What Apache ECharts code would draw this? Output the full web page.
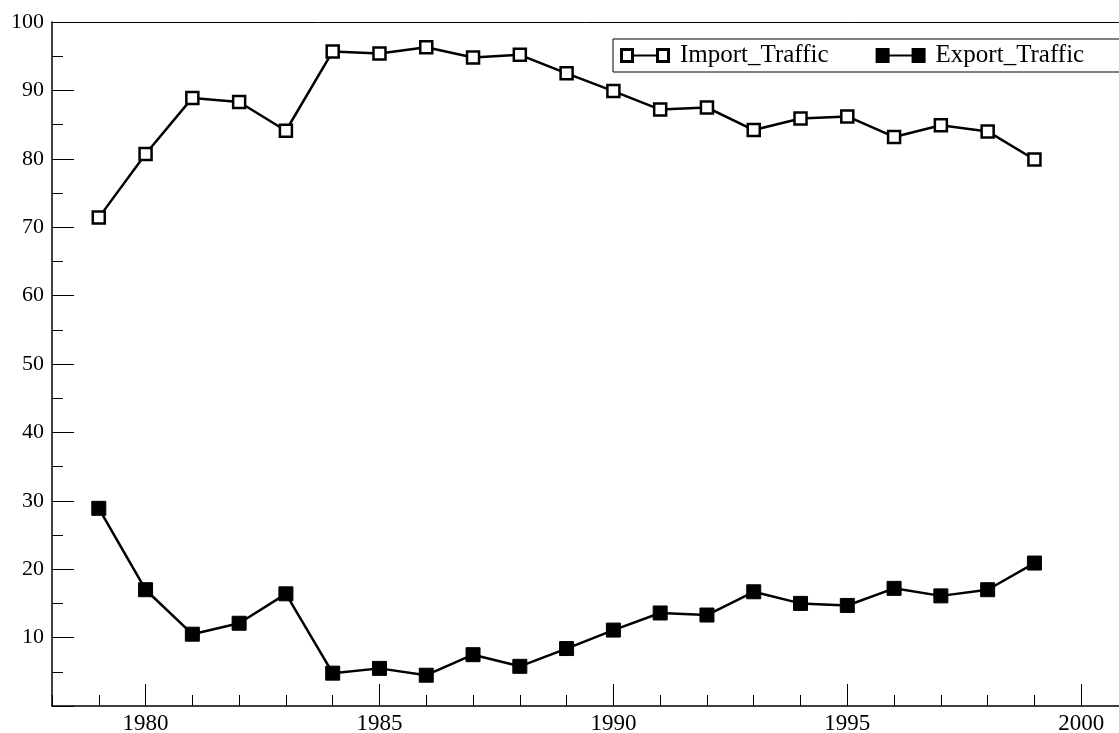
<!DOCTYPE html>
<html>
<head>
<meta charset="utf-8">
<script src="https://cdn.jsdelivr.net/npm/echarts@6/dist/echarts.min.js"></script>
<style>
html,body{margin:0;padding:0;background:#fff;overflow:hidden;}
#chart{width:1119px;height:733px;}
</style>
</head>
<body>
<div id="chart"></div>
<script>
var years = [1979,1980,1981,1982,1983,1984,1985,1986,1987,1988,1989,1990,1991,1992,1993,1994,1995,1996,1997,1998,1999];
var importTraffic = [71.4,80.7,88.9,88.3,84.1,95.7,95.4,96.3,94.8,95.2,92.5,89.9,87.2,87.5,84.2,85.9,86.2,83.2,84.9,84.0,79.9];
var exportTraffic = [28.9,17.0,10.5,12.1,16.4,4.8,5.5,4.5,7.5,5.8,8.4,11.1,13.6,13.3,16.7,15.0,14.7,17.2,16.1,17.0,20.9];
var majorYears = [1980,1985,1990,1995,2000];
var seriesNames = ['Import_Traffic','Export_Traffic'];

var FONT = '"Liberation Serif", "Times New Roman", serif';
function pairs(vals){ return years.map(function(y,i){ return [y, vals[i]]; }); }

var hollowIcon = 'path://M0,0H14V15H0Z M3,3V12H11V3Z M14,6.5H36V8.5H14Z M36,0H50V15H36Z M39,3V12H47V3Z';
var solidIcon = 'path://M0,0H14V15H0Z M14,6.5H36V8.5H14Z M36,0H50V15H36Z';

var chart = echarts.init(document.getElementById('chart'), null, {renderer:'canvas'});
chart.setOption({
  backgroundColor: '#fff',
  animation: false,
  grid: {left: 52, width: 1076, top: 22, bottom: 27, containLabel: false, outerBoundsMode: 'none'},
  legend: {
    left: 613, top: 39, width: 560,
    orient: 'horizontal',
    padding: [4, 50, 4, 7],
    itemGap: 47,
    itemWidth: 50, itemHeight: 15,
    borderColor: '#000', borderWidth: 1,
    backgroundColor: '#fff',
    itemStyle: {color: '#000', borderWidth: 0},
    textStyle: {fontFamily: FONT, fontSize: 25, color: '#000', padding: [0,0,0,5]},
    data: [
      {name: seriesNames[0], icon: hollowIcon},
      {name: seriesNames[1], icon: solidIcon}
    ]
  },
  xAxis: [
    {
      type: 'value', min: 1978, max: 2001, interval: 1,
      position: 'bottom',
      axisLine: {show: true, onZero: false, lineStyle: {color: '#000', width: 1.5}},
      axisTick: {show: true, inside: true, length: 11, lineStyle: {color: '#000', width: 1}},
      axisLabel: {show: false},
      splitLine: {show: false}
    },
    {
      type: 'value', min: 1978, max: 2001, interval: 1,
      position: 'bottom',
      axisLine: {show: false, onZero: false},
      axisTick: {show: true, inside: true, length: 22, customValues: majorYears, lineStyle: {color: '#000', width: 1}},
      axisLabel: {
        show: true, customValues: majorYears, margin: 6, color: '#000', fontFamily: FONT, fontSize: 23,
        formatter: function(v){ return String(v); }
      },
      splitLine: {show: false}
    },
    {
      type: 'value', min: 1978, max: 2001, interval: 1,
      position: 'top',
      axisLine: {show: true, onZero: false, lineStyle: {color: '#000', width: 1}},
      axisTick: {show: false},
      axisLabel: {show: false},
      splitLine: {show: false}
    }
  ],
  yAxis: {
    type: 'value', min: 0, max: 100, interval: 10,
    axisLine: {show: true, onZero: false, lineStyle: {color: '#000', width: 1.5}},
    axisTick: {show: true, inside: true, length: 22, lineStyle: {color: '#000', width: 1}},
    minorTick: {show: true, splitNumber: 2, length: 11, lineStyle: {color: '#000', width: 1}},
    axisLabel: {
      margin: 8, color: '#000', fontFamily: FONT, fontSize: 22,
      formatter: function(v){ return v === 0 ? '' : String(v); }
    },
    splitLine: {show: false}
  },
  series: [
    {
      name: seriesNames[0], type: 'line', xAxisIndex: 0,
      data: pairs(importTraffic),
      symbol: 'rect', symbolSize: 12,
      lineStyle: {color: '#000', width: 2.5},
      itemStyle: {color: '#fff', borderColor: '#000', borderWidth: 2.5},
      z: 3
    },
    {
      name: seriesNames[1], type: 'line', xAxisIndex: 0,
      data: pairs(exportTraffic),
      symbol: 'rect', symbolSize: 14,
      lineStyle: {color: '#000', width: 2.5},
      itemStyle: {color: '#000', borderColor: '#000', borderWidth: 1},
      z: 3
    }
  ]
});
</script>
</body>
</html>
